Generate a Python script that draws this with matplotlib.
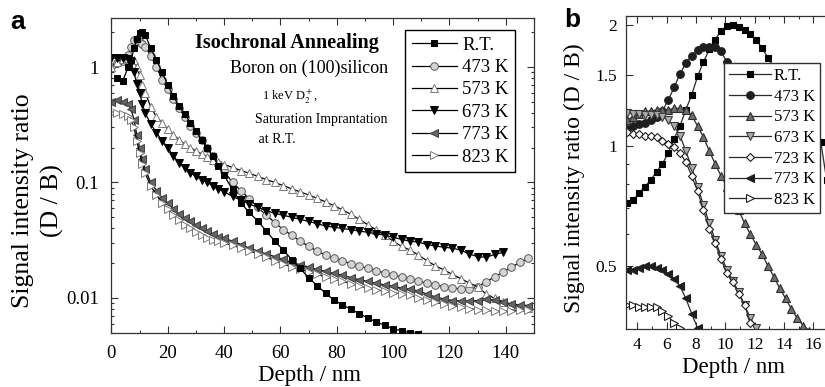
import numpy as np
import matplotlib
matplotlib.use('Agg')
import matplotlib.pyplot as plt
from matplotlib.ticker import FixedLocator, FixedFormatter, MultipleLocator, LogLocator, NullFormatter

plt.rcParams['font.family'] = ['Liberation Serif', 'DejaVu Serif']
plt.rcParams['mathtext.fontset'] = 'stix'

nan = np.nan

# ---- panel a: depth grid (nm) and D/B ratio per anneal temperature ----
depth_a = [0, 2, 4, 6, 7, 8, 9, 10, 11, 12,
           14, 16, 18, 20, 22, 24, 26, 28, 30, 32, 34, 36, 38, 40,
           43, 46, 49, 52, 55, 58, 61, 64, 67, 70, 73, 76,
           79, 82, 85, 88, 91, 94, 97, 100, 103, 106, 109, 112,
           115, 118, 121, 124, 127, 130, 133, 136, 139, 142, 145, 148]

rt_a = [nan, 0.80, 0.76, 1.0, 1.15, 1.45, 1.75, 1.97, 2.0, 1.9,
        1.45, 1.15, 0.9, 0.7, 0.56, 0.46, 0.39, 0.33, 0.28, 0.235, 0.2, 0.168, 0.14, 0.115,
        0.087, 0.066, 0.055, 0.046, 0.038, 0.031, 0.026, 0.0215, 0.018, 0.015, 0.0128, 0.011,
        0.0096, 0.0087, 0.008, 0.0073, 0.0067, 0.0062, 0.0058, 0.0054, 0.0052, 0.005, 0.0049, nan,
        nan, nan, nan, nan, nan, nan, nan, nan, nan, nan, nan, nan]
k473_a = [1.0, 1.08, 1.13, 1.28, 1.5, 1.72, 1.76, 1.65, 1.58, 1.5,
          1.25, 1.0, 0.78, 0.64, 0.53, 0.44, 0.37, 0.31, 0.27, 0.235, 0.2, 0.17, 0.145, 0.125,
          0.1, 0.085, 0.072, 0.061, 0.052, 0.045, 0.039, 0.035, 0.031, 0.028, 0.0255, 0.0235,
          0.0222, 0.021, 0.0198, 0.0188, 0.018, 0.0172, 0.0165, 0.0158, 0.0152, 0.0146, 0.014, 0.0134,
          0.013, 0.0125, 0.0122, 0.012, 0.0119, 0.0125, 0.0138, 0.0152, 0.0168, 0.0185, 0.0203, 0.022]
k573_a = [1.0, 1.1, 1.18, 1.2, 1.2, 1.15, 1.0, 0.85, 0.7, 0.6,
          0.45, 0.37, 0.33, 0.29, 0.26, 0.235, 0.215, 0.2, 0.188, 0.177, 0.167, 0.158, 0.15, 0.143,
          0.135, 0.127, 0.12, 0.113, 0.106, 0.1, 0.094, 0.088, 0.083, 0.078, 0.073, 0.068,
          0.063, 0.058, 0.053, 0.048, 0.043, 0.039, 0.035, 0.031, 0.028, 0.026, 0.0235, 0.021,
          0.019, 0.0175, 0.016, 0.0147, 0.0135, 0.0125, 0.0108, 0.0099, 0.0093, 0.0087, 0.0084, 0.0082]
k673_a = [1.2, 1.2, 1.2, 1.18, 1.1, 0.9, 0.72, 0.6, 0.48, 0.4,
          0.32, 0.27, 0.23, 0.2, 0.17, 0.148, 0.133, 0.122, 0.113, 0.106, 0.1, 0.094, 0.088, 0.083,
          0.076, 0.07, 0.065, 0.061, 0.057, 0.054, 0.052, 0.05, 0.048, 0.046, 0.044, 0.042,
          0.041, 0.04, 0.039, 0.038, 0.037, 0.036, 0.035, 0.0335, 0.0322, 0.031, 0.0305, 0.029,
          0.0282, 0.0275, 0.027, 0.026, 0.024, 0.0228, 0.0225, 0.0238, 0.0248, nan, nan, nan]
k773_a = [0.5, 0.52, 0.5, 0.48, 0.43, 0.35, 0.26, 0.2, 0.16, 0.13,
          0.1, 0.085, 0.074, 0.066, 0.059, 0.053, 0.049, 0.046, 0.043, 0.04, 0.038, 0.036, 0.034, 0.033,
          0.031, 0.029, 0.027, 0.0255, 0.024, 0.0228, 0.0216, 0.0203, 0.0194, 0.0185, 0.0177, 0.017,
          0.0163, 0.0157, 0.015, 0.0144, 0.0139, 0.0134, 0.013, 0.0126, 0.0122, 0.0119, 0.0115, 0.0108,
          0.0102, 0.0098, 0.0095, 0.0094, 0.0094, 0.0095, 0.0097, 0.0096, 0.0092, 0.0089, 0.0087, 0.0086]
k823_a = [0.4, 0.4, 0.395, 0.375, 0.35, 0.3, 0.23, 0.18, 0.145, 0.12,
          0.093, 0.078, 0.067, 0.059, 0.052, 0.047, 0.043, 0.04, 0.037, 0.035, 0.033, 0.032, 0.031, 0.03,
          0.0285, 0.027, 0.0255, 0.024, 0.0225, 0.021, 0.0196, 0.0186, 0.0177, 0.0168, 0.016, 0.0152,
          0.0145, 0.0139, 0.0133, 0.0127, 0.0122, 0.0118, 0.0114, 0.0111, 0.0108, 0.0105, 0.01, 0.0096,
          0.0092, 0.0088, 0.0086, 0.0083, 0.0081, 0.0079, 0.0078, 0.0077, 0.0077, 0.0077, 0.0078, 0.0079]

# ---- panel b: near-surface zoom ----
depth_b = [3.3, 3.7, 4.1, 4.5, 4.9, 5.3, 5.7,
           6.1, 6.5, 6.9, 7.3, 7.7, 8.1, 8.5,
           8.9, 9.3, 9.7, 10.1, 10.5, 10.9, 11.3,
           11.7, 12.1, 12.5, 12.9, 13.3, 13.7, 14.1,
           14.5, 14.9, 15.3, 15.7, 16.1, 16.5, 16.9]

rt_b = [0.72, 0.73, 0.76, 0.79, 0.82, 0.86, 0.9,
        0.96, 1.04, 1.12, 1.23, 1.34, 1.49, 1.62,
        1.74, 1.84, 1.94, 1.99, 2.0, 1.98, 1.95,
        1.9, 1.84, 1.75, 1.66, 1.57, 1.49, 1.42,
        1.35, 1.28, 1.21, 1.14, 1.08, 1.02, 0.82]
k473_b = [1.10, 1.12, 1.13, 1.14, 1.16, 1.18, 1.22,
          1.30, 1.40, 1.51, 1.61, 1.68, 1.73, 1.76,
          1.77, 1.76, 1.72, 1.62, nan, nan, nan,
          nan, nan, nan, nan, nan, nan, nan,
          nan, nan, nan, nan, nan, nan, nan]
k573_b = [1.16, 1.18, 1.2, 1.22, 1.22, 1.23, 1.23,
          1.23, 1.24, 1.24, 1.23, 1.19, 1.12, 1.05,
          0.97, 0.9, 0.84, 0.79, 0.75, 0.69, 0.64,
          0.6, 0.565, 0.535, 0.5, 0.47, 0.44, 0.415,
          0.39, 0.37, 0.355, 0.345, nan, nan, nan]
k673_b = [1.21, 1.2, 1.2, 1.19, 1.19, 1.19, 1.18,
          1.16, 1.12, 1.06, 0.97, 0.88, 0.79, 0.71,
          0.64, 0.58, 0.53, 0.49, 0.46, 0.43, 0.40,
          0.37, 0.35, nan, nan, nan, nan, nan,
          nan, nan, nan, nan, nan, nan, nan]
k723_b = [1.08, 1.07, 1.07, 1.06, 1.06, 1.05, 1.03,
          1.01, 0.99, 0.96, 0.91, 0.84, 0.77, 0.69,
          0.62, 0.57, 0.52, 0.48, 0.455, 0.425, 0.40,
          0.36, nan, nan, nan, nan, nan, nan,
          nan, nan, nan, nan, nan, nan, nan]
k773_b = [0.49, 0.49, 0.495, 0.5, 0.5, 0.495, 0.49,
          0.478, 0.465, 0.445, 0.415, 0.38, 0.35, nan,
          nan, nan, nan, nan, nan, nan, nan,
          nan, nan, nan, nan, nan, nan, nan,
          nan, nan, nan, nan, nan, nan, nan]
k823_b = [0.40, 0.40, 0.395, 0.395, 0.395, 0.395, 0.385,
          0.375, 0.36, 0.35, nan, nan, nan, nan,
          nan, nan, nan, nan, nan, nan, nan,
          nan, nan, nan, nan, nan, nan, nan,
          nan, nan, nan, nan, nan, nan, nan]

labels_a = ['R.T.', '473 K', '573 K', '673 K', '773 K', '823 K']
labels_b = ['R.T.', '473 K', '573 K', '673 K', '723 K', '773 K', '823 K']
xticks_b = [4, 6, 8, 10, 12, 14, 16]

W, H = 825, 387


def fx(px):
    return px / W


def fy(py):
    return 1 - py / H


fig = plt.figure(figsize=(W / 100, H / 100), dpi=100)

# ================= panel a =================
ax = fig.add_axes([fx(111.4), fy(333), (534 - 111.4) / W, (333 - 18) / H])
series_a = [
    (rt_a, 's', 'black', 'black', 4.5),
    (k473_a, 'o', '#d4d4d4', '#5a5a5a', 5.5),
    (k573_a, '^', 'white', '#7a7a7a', 5.5),
    (k673_a, 'v', 'black', 'black', 5.5),
    (k773_a, '<', '#656565', '#404040', 5.5),
    (k823_a, '>', 'white', '#7a7a7a', 5.5),
]
handles = []
for (vals, mk, fc, ec, ms), lab in zip(series_a, labels_a):
    h, = ax.plot(depth_a, vals, '-', color='black', lw=0.9, marker=mk, ms=ms,
                 mfc=fc, mec=ec, mew=0.7, label=lab)
    handles.append(h)
# keep the black R.T. curve on top
handles[0].set_zorder(3)

ax.set_yscale('log')
ax.set_xlim(0, 150)
ax.set_ylim(0.00497, 2.66)
ax.xaxis.set_major_locator(MultipleLocator(20))
ax.xaxis.set_minor_locator(MultipleLocator(10))
ax.yaxis.set_major_locator(FixedLocator([0.01, 0.1, 1]))
ax.yaxis.set_major_formatter(FixedFormatter(['0.01', '0.1', '1']))
ax.yaxis.set_minor_locator(LogLocator(base=10, subs=np.arange(2, 10)))
ax.yaxis.set_minor_formatter(NullFormatter())
ax.tick_params(which='both', direction='in', top=True, right=True, width=0.8, color='#333333')
ax.tick_params(which='major', length=5, labelsize=13.5)
ax.tick_params(which='minor', length=2.5)
ax.tick_params(axis='x', pad=9)
ax.tick_params(axis='y', pad=9)
for s in ax.spines.values():
    s.set_linewidth(0.9)
    s.set_color('#333333')

ax.legend(handles=handles, loc='upper left', bbox_to_anchor=(fx(405), fy(30)),
          bbox_transform=fig.transFigure, borderaxespad=0, fontsize=13.5,
          labelspacing=0.28, handlelength=2.4, handletextpad=0.3, borderpad=0.35,
          fancybox=False, framealpha=1, edgecolor='black', numpoints=1)

fig.text(fx(287), fy(43), 'Isochronal Annealing', fontsize=14.5, fontweight='bold',
         ha='center', va='center')
fig.text(fx(309), fy(68), 'Boron on (100)silicon', fontsize=13, ha='center', va='center')
fig.text(fx(262), fy(97), r'1 keV D$_2^+$,', fontsize=9, ha='left', va='center')
fig.text(fx(255), fy(120), 'Saturation Imprantation', fontsize=10, ha='left', va='center')
fig.text(fx(255), fy(139), ' at R.T.', fontsize=10, ha='left', va='center')

fig.text(fx(38), fy(201), 'Signal intensity ratio\n(D / B)', fontsize=18.5, rotation=90,
         ha='center', va='center', multialignment='center', linespacing=1.4)
fig.text(fx(310), fy(376), 'Depth / nm', fontsize=16.5, ha='center', va='center')
fig.text(fx(10), fy(29), 'a', fontsize=19, fontweight='bold', family='Liberation Sans',
         ha='left', va='baseline')

# ================= panel b =================
px_per_nm = 14.67
xb0, xb1 = 3.2, 18.0
axb = fig.add_axes([fx(625.7), fy(329), (xb1 - xb0) * px_per_nm / W, (329 - 16) / H])
series_b = [
    (rt_b, 's', 'black', 'black', 4.5),
    (k473_b, 'o', '#1e1e1e', '#1e1e1e', 5.5),
    (k573_b, '^', '#6e6e6e', '#2e2e2e', 5.5),
    (k673_b, 'v', '#ababab', '#3a3a3a', 5.5),
    (k723_b, 'D', 'white', '#1e1e1e', 4.5),
    (k773_b, '<', '#1e1e1e', '#1e1e1e', 5.5),
    (k823_b, '>', 'white', '#1e1e1e', 5.5),
]
handles_b = []
for (vals, mk, fc, ec, ms), lab in zip(series_b, labels_b):
    h, = axb.plot(depth_b, vals, '-', color='#2a2a2a', lw=0.9, marker=mk, ms=ms,
                  mfc=fc, mec=ec, mew=0.8, label=lab)
    handles_b.append(h)

axb.set_yscale('log')
axb.set_xlim(xb0, xb1)
axb.set_ylim(0.348, 2.11)
axb.xaxis.set_major_locator(FixedLocator(xticks_b))
axb.xaxis.set_minor_locator(MultipleLocator(1))
axb.yaxis.set_major_locator(FixedLocator([0.5, 1, 1.5, 2]))
axb.yaxis.set_major_formatter(FixedFormatter(['0.5', '1', '1.5', '2']))
axb.yaxis.set_minor_locator(FixedLocator([0.4, 0.6, 0.7, 0.8, 0.9]))
axb.yaxis.set_minor_formatter(NullFormatter())
axb.tick_params(which='both', direction='in', top=True, right=True, width=0.8, color='#333333')
axb.tick_params(which='major', length=5, labelsize=12.5)
axb.tick_params(which='minor', length=2.5)
axb.tick_params(axis='x', pad=6)
axb.tick_params(axis='y', pad=6)
for s in axb.spines.values():
    s.set_linewidth(0.9)
    s.set_color('#333333')

axb.legend(handles=handles_b, loc='upper left', bbox_to_anchor=(fx(724), fy(63)),
           bbox_transform=fig.transFigure, borderaxespad=0, fontsize=12,
           labelspacing=0.28, handlelength=2.5, handletextpad=0.2, borderpad=0.3,
           fancybox=False, framealpha=1, edgecolor='#333333', numpoints=1)

fig.text(fx(574), fy(178), 'Signal intensity ratio (D / B)', fontsize=17, rotation=90,
         ha='center', va='center')
fig.text(fx(733), fy(368), 'Depth / nm', fontsize=16.5, ha='center', va='center')
fig.text(fx(564), fy(27), 'b', fontsize=19, fontweight='bold', family='Liberation Sans',
         ha='left', va='baseline')

fig.savefig('out.png', dpi=100)
